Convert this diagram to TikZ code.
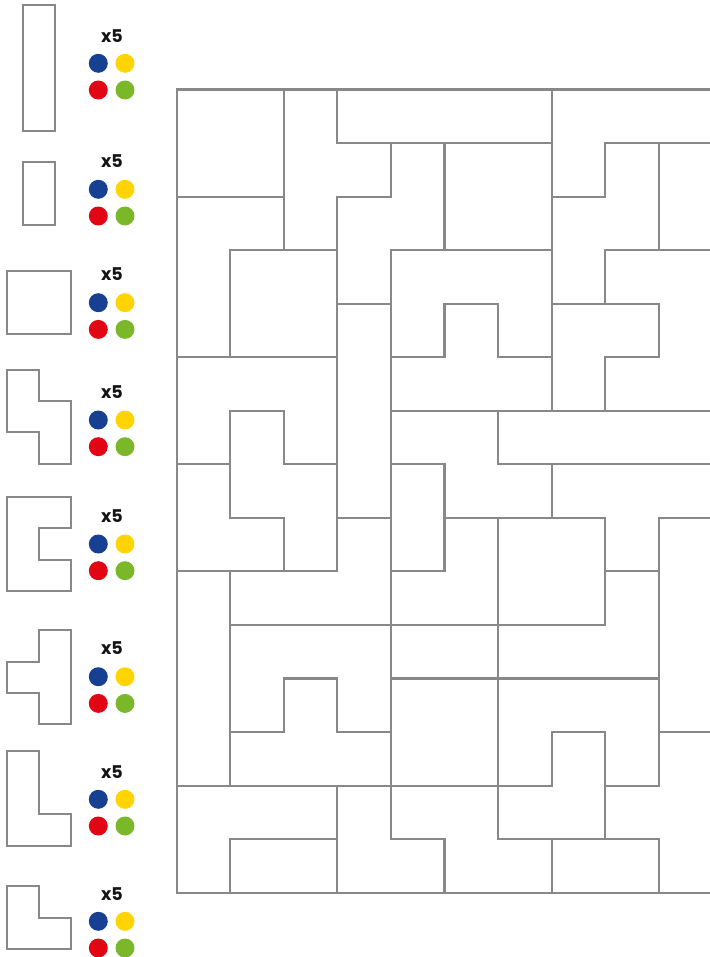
\documentclass[tikz,border=0pt]{standalone}
\usepackage{fontspec}
\usetikzlibrary{positioning}
\newfontfamily\countfont{Poppins}
\definecolor{linegray}{RGB}{136,136,136}
\definecolor{dotblue}{RGB}{24,64,146}
\definecolor{dotyellow}{RGB}{255,212,0}
\definecolor{dotred}{RGB}{226,6,20}
\definecolor{dotgreen}{RGB}{122,184,42}

\begin{document}
\begin{tikzpicture}[
  x=0.02cm, y=-0.02cm,
  piece/.style={draw=linegray, line width=1.2pt, fill=white},
  board/.style={draw=linegray, line width=1.2pt, line cap=rect},
  count/.style={font=\countfont\bfseries\fontsize{10}{12}\selectfont, text=black!92},
  dot/.style={circle, inner sep=0pt, minimum size=0.38cm}
]
\useasboundingbox (0,0) rectangle (710,957);
\clip (0,0) rectangle (710,957);

% Pieces with their counts
\draw[piece] (22.9,5) rectangle (54.7,131.3);
\node[count] (cnt1) at (112,36) {x5};
\node[dot, fill=dotblue] (blue1) at (98.3,63.3) {};
\node[dot, fill=dotyellow, right=0.14cm of blue1] (yel1) {};
\node[dot, fill=dotred, below=0.14cm of blue1] (red1) {};
\node[dot, fill=dotgreen, right=0.14cm of red1] (grn1) {};

\draw[piece] (22.9,161.7) rectangle (54.7,225);
\node[count] (cnt2) at (112,161) {x5};
\node[dot, fill=dotblue] (blue2) at (98.3,189.3) {};
\node[dot, fill=dotyellow, right=0.14cm of blue2] (yel2) {};
\node[dot, fill=dotred, below=0.14cm of blue2] (red2) {};
\node[dot, fill=dotgreen, right=0.14cm of red2] (grn2) {};

\draw[piece] (6.7,271) rectangle (70.7,334);
\node[count] (cnt3) at (112,274.3) {x5};
\node[dot, fill=dotblue] (blue3) at (98.3,302.7) {};
\node[dot, fill=dotyellow, right=0.14cm of blue3] (yel3) {};
\node[dot, fill=dotred, below=0.14cm of blue3] (red3) {};
\node[dot, fill=dotgreen, right=0.14cm of red3] (grn3) {};

\draw[piece] (6.7,370) -- (38.8,370) -- (38.8,401) -- (70.7,401) -- (70.7,464)
  -- (38.8,464) -- (38.8,432.3) -- (6.7,432.3) -- cycle;
\node[count] (cnt4) at (112,391.7) {x5};
\node[dot, fill=dotblue] (blue4) at (98.3,420) {};
\node[dot, fill=dotyellow, right=0.14cm of blue4] (yel4) {};
\node[dot, fill=dotred, below=0.14cm of blue4] (red4) {};
\node[dot, fill=dotgreen, right=0.14cm of red4] (grn4) {};

\draw[piece] (6.7,496.7) -- (70.7,496.7) -- (70.7,528.3) -- (38.8,528.3) -- (38.8,560)
  -- (70.7,560) -- (70.7,591) -- (6.7,591) -- cycle;
\node[count] (cnt5) at (112,516) {x5};
\node[dot, fill=dotblue] (blue5) at (98.3,544) {};
\node[dot, fill=dotyellow, right=0.14cm of blue5] (yel5) {};
\node[dot, fill=dotred, below=0.14cm of blue5] (red5) {};
\node[dot, fill=dotgreen, right=0.14cm of red5] (grn5) {};

\draw[piece] (38.8,630) -- (70.7,630) -- (70.7,723.7) -- (38.8,723.7) -- (38.8,692.7)
  -- (6.7,692.7) -- (6.7,661.7) -- (38.8,661.7) -- cycle;
\node[count] (cnt6) at (112,648.3) {x5};
\node[dot, fill=dotblue] (blue6) at (98.3,676.7) {};
\node[dot, fill=dotyellow, right=0.14cm of blue6] (yel6) {};
\node[dot, fill=dotred, below=0.14cm of blue6] (red6) {};
\node[dot, fill=dotgreen, right=0.14cm of red6] (grn6) {};

\draw[piece] (6.7,751) -- (38.8,751) -- (38.8,814.3) -- (70.7,814.3) -- (70.7,845.7)
  -- (6.7,845.7) -- cycle;
\node[count] (cnt7) at (112,772) {x5};
\node[dot, fill=dotblue] (blue7) at (98.3,799.3) {};
\node[dot, fill=dotyellow, right=0.14cm of blue7] (yel7) {};
\node[dot, fill=dotred, below=0.14cm of blue7] (red7) {};
\node[dot, fill=dotgreen, right=0.14cm of red7] (grn7) {};

\draw[piece] (6.7,886.3) -- (38.8,886.3) -- (38.8,918) -- (70.7,918) -- (70.7,949.3)
  -- (6.7,949.3) -- cycle;
\node[count] (cnt8) at (112,893.7) {x5};
\node[dot, fill=dotblue] (blue8) at (98.3,921.3) {};
\node[dot, fill=dotyellow, right=0.14cm of blue8] (yel8) {};
\node[dot, fill=dotred, below=0.14cm of blue8] (red8) {};
\node[dot, fill=dotgreen, right=0.14cm of red8] (grn8) {};

% Board, one unit per cell
\begin{scope}[xshift=3.536cm, yshift=-1.79cm, x=1.0712cm, y=-1.0712cm]
  % frame, runs off the right edge
  \draw[board] (10,0) -- (0,0) -- (0,15) -- (10,15);
  % vertical edges
  \draw[board] (1,3) -- (1,5) (1,6) -- (1,8) (1,9) -- (1,13) (1,14) -- (1,15);
  \draw[board] (2,0) -- (2,3) (2,6) -- (2,7) (2,8) -- (2,9) (2,11) -- (2,12);
  \draw[board] (3,0) -- (3,1) (3,2) -- (3,9) (3,11) -- (3,12) (3,13) -- (3,15);
  \draw[board] (4,1) -- (4,2) (4,3) -- (4,14);
  \draw[board] (5,1) -- (5,3) (5,4) -- (5,5) (5,7) -- (5,9) (5,14) -- (5,15);
  \draw[board] (6,4) -- (6,5) (6,6) -- (6,7) (6,8) -- (6,14);
  \draw[board] (7,0) -- (7,6) (7,7) -- (7,8) (7,12) -- (7,13) (7,14) -- (7,15);
  \draw[board] (8,1) -- (8,2) (8,3) -- (8,4) (8,5) -- (8,6) (8,8) -- (8,10) (8,12) -- (8,14);
  \draw[board] (9,1) -- (9,3) (9,4) -- (9,5) (9,8) -- (9,13) (9,14) -- (9,15);
  % horizontal edges
  \draw[board] (3,1) -- (7,1) (8,1) -- (10,1);
  \draw[board] (0,2) -- (2,2) (3,2) -- (4,2) (7,2) -- (8,2);
  \draw[board] (1,3) -- (3,3) (4,3) -- (7,3) (8,3) -- (10,3);
  \draw[board] (3,4) -- (4,4) (5,4) -- (6,4) (7,4) -- (9,4);
  \draw[board] (0,5) -- (3,5) (4,5) -- (5,5) (6,5) -- (7,5) (8,5) -- (9,5);
  \draw[board] (1,6) -- (2,6) (4,6) -- (10,6);
  \draw[board] (0,7) -- (1,7) (2,7) -- (3,7) (4,7) -- (5,7) (6,7) -- (10,7);
  \draw[board] (1,8) -- (2,8) (3,8) -- (4,8) (5,8) -- (8,8) (9,8) -- (10,8);
  \draw[board] (0,9) -- (3,9) (4,9) -- (5,9) (8,9) -- (9,9);
  \draw[board] (1,10) -- (8,10);
  \draw[board] (2,11) -- (3,11) (4,11) -- (9,11);
  \draw[board] (1,12) -- (2,12) (3,12) -- (4,12) (7,12) -- (8,12) (9,12) -- (10,12);
  \draw[board] (0,13) -- (7,13) (8,13) -- (9,13);
  \draw[board] (1,14) -- (3,14) (4,14) -- (5,14) (6,14) -- (9,14);
\end{scope}

\end{tikzpicture}
\end{document}
